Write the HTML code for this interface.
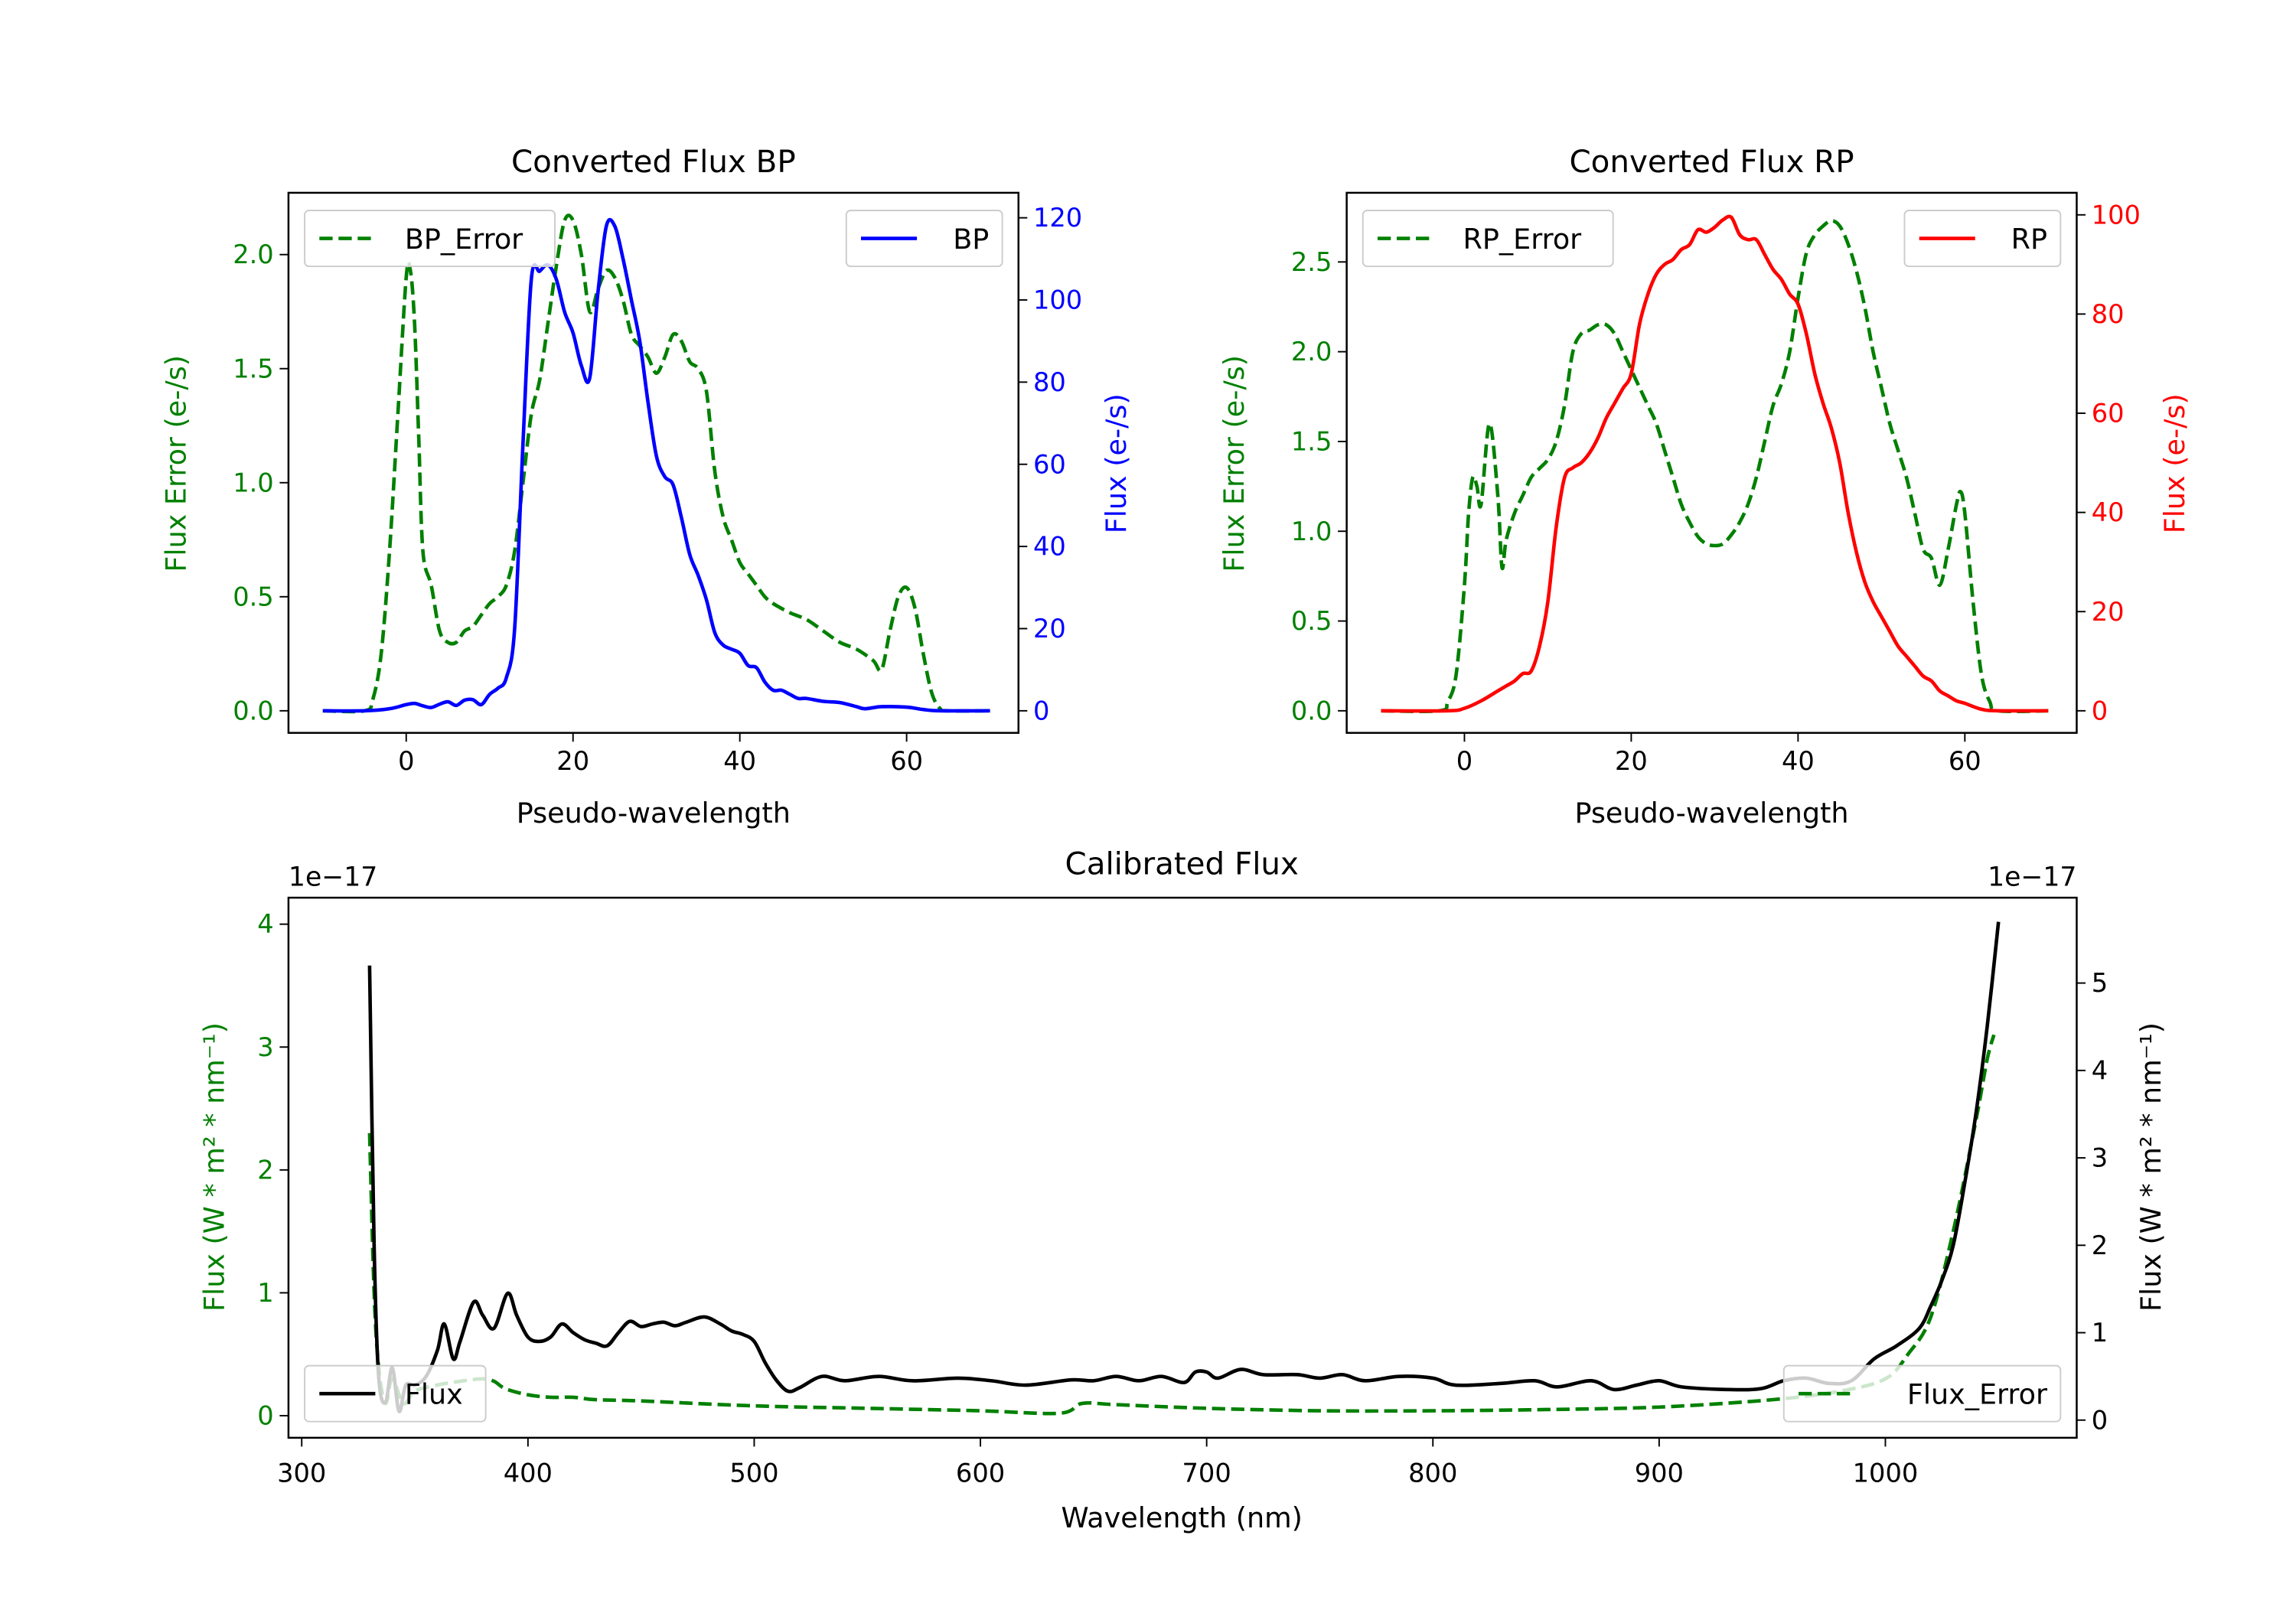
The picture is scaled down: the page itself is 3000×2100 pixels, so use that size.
<!DOCTYPE html>
<html><head><meta charset="utf-8"><style>
html,body{margin:0;padding:0;background:#fff}
svg{display:block}
text{font-family:"DejaVu Sans","Liberation Sans",sans-serif}
</style></head><body>
<svg id="fig" width="3000" height="2100" viewBox="0 0 1560 1092" xmlns="http://www.w3.org/2000/svg"></svg>
<script>
// ---- data ----
const bpX=[-10,-5,-2,0,1,2,3,4,5,6,7,8,9,10,11,12,13,14,15,16,17,18,19,20,21,22,23,24,25,26,27,28,29,30,31,32,33,34,35,36,37,38,39,40,41,42,43,44,45,46,47,48,50,52,54,55,57,60,62,64,70];
const bpFlux=[0,0,0.5,1.5,1.8,1.2,0.8,1.6,2.2,1.3,2.6,2.7,1.5,4,5.5,8,20,65,105,107,108.5,105,97,92,84,81,102,118,118,110,100,90,75,62,57,55,47,38,33,27,19,16,15,14,11,10.5,7,5,5,4,3,3,2.3,2,1,0.5,1,0.9,0.3,0,0];
const bpErrX=[-10,-5,-4,-3,-2,-1,0,0.5,1,1.5,2,3,4,5,6,7,8,9,10,11,12,13,14,15,16,17,18,19,20,21,22,23,24,25,26,27,28,29,30,31,32,33,34,35,36,37,38,39,40,41,42,43,44,46,48,50,52,54,56,57,58,59,60,61,62,63,64,65,70];
const bpErr=[0,0,0.05,0.25,0.7,1.3,1.9,1.93,1.7,1.2,0.7,0.55,0.35,0.3,0.3,0.35,0.37,0.42,0.47,0.5,0.55,0.7,1.0,1.3,1.45,1.7,1.95,2.15,2.15,2.0,1.75,1.85,1.93,1.9,1.8,1.65,1.6,1.55,1.48,1.55,1.65,1.62,1.53,1.5,1.4,1.05,0.85,0.75,0.65,0.6,0.55,0.5,0.47,0.43,0.4,0.35,0.3,0.27,0.22,0.18,0.35,0.5,0.54,0.45,0.25,0.08,0.01,0,0];
const rpX=[-10,-2,0,2,4,5,6,7,8,9,10,11,12,13,14,15,16,17,18,19,20,21,22,23,24,25,26,27,28,29,30,31,32,33,34,35,36,37,38,39,40,41,42,43,44,45,46,47,48,49,50,51,52,53,54,55,56,57,58,59,60,62,64,70];
const rpFlux=[0,0,0.5,2,4,5,6,7.5,8,13,22,37,47,49,50,52,55,59,62,65,68,78,84,88,90,91,93,94,97,96.5,97.5,99,99.5,96,95,95,92,89,87,84,82,76,68,62,57,50,40,32,26,22,19,16,13,11,9,7,6,4,3,2,1.5,0.3,0,0];
const rpErrX=[-10,-3,-2,-1,0,0.5,1,1.5,2,3,4,4.5,5,6,7,8,9,10,11,12,13,14,15,16,17,18,19,20,21,22,23,24,25,26,27,28,29,30,31,32,33,34,35,36,37,38,39,40,41,42,43,44,45,46,47,48,49,50,51,52,53,54,55,56,57,58,59,59.5,60,61,62,63,64,70];
const rpErr=[0,0,0.05,0.2,0.7,1.1,1.3,1.25,1.15,1.6,1.2,0.8,0.95,1.1,1.2,1.3,1.35,1.4,1.5,1.7,2.0,2.1,2.12,2.15,2.15,2.1,2.0,1.9,1.8,1.7,1.6,1.45,1.3,1.15,1.05,0.97,0.93,0.92,0.93,0.98,1.05,1.15,1.3,1.5,1.7,1.82,2.0,2.3,2.55,2.65,2.7,2.73,2.7,2.6,2.45,2.25,2.0,1.8,1.6,1.45,1.3,1.1,0.9,0.85,0.7,0.9,1.15,1.22,1.1,0.6,0.2,0.05,0,0];
const wlX=[330,332,334,337,340,343,346,350,355,360,363,367,370,376,380,385,391,395,400,405,410,415,420,425,430,435,440,445,450,455,460,465,470,478,485,490,495,500,505,510,515,520,530,540,555,570,590,605,620,640,650,660,670,680,690,695,700,705,715,725,740,750,760,770,785,800,810,830,845,855,870,880,890,900,910,930,945,955,965,975,985,995,1005,1015,1020,1025,1030,1035,1040,1045,1050];
const calFlux=[5.2,2,0.5,0.2,0.6,0.1,0.4,0.4,0.5,0.8,1.1,0.7,0.9,1.35,1.2,1.05,1.45,1.2,0.95,0.9,0.95,1.1,1.0,0.92,0.88,0.85,1.0,1.13,1.07,1.1,1.12,1.08,1.12,1.18,1.1,1.02,0.98,0.9,0.65,0.45,0.33,0.37,0.5,0.45,0.5,0.45,0.48,0.45,0.4,0.46,0.45,0.5,0.45,0.5,0.43,0.55,0.55,0.48,0.58,0.52,0.52,0.48,0.52,0.45,0.5,0.48,0.4,0.42,0.45,0.38,0.45,0.35,0.4,0.45,0.38,0.35,0.36,0.45,0.48,0.42,0.45,0.7,0.85,1.05,1.3,1.6,2.0,2.7,3.5,4.5,5.7];
const errWl=[330,332,334,337,340,345,350,360,370,380,385,390,400,410,420,430,450,500,550,600,635,645,660,700,750,800,850,900,950,980,1000,1010,1020,1030,1040,1045,1048];
const calErr=[2.3,1.0,0.4,0.1,0.3,0.1,0.2,0.25,0.28,0.3,0.28,0.22,0.17,0.15,0.15,0.13,0.12,0.08,0.06,0.04,0.02,0.1,0.09,0.06,0.04,0.04,0.05,0.07,0.13,0.2,0.3,0.5,0.8,1.5,2.4,2.9,3.1];
const bpXTicks=[0,20,40,60], errTicks1=[0,0.5,1,1.5,2], fluxTicks1=[0,20,40,60,80,100,120];
const errTicks2=[0,0.5,1,1.5,2,2.5], fluxTicks2=[0,20,40,60,80,100];
const wlTicks=[300,400,500,600,700,800,900,1000], calErrTicks=[0,1,2,3,4], calFluxTicks=[0,1,2,3,4,5];

const NS='http://www.w3.org/2000/svg';
const svg=document.getElementById('fig');
function el(tag,attrs,parent,txt){const e=document.createElementNS(NS,tag);for(const k in attrs)e.setAttribute(k,attrs[k]);if(txt!==undefined)e.textContent=txt;(parent||svg).appendChild(e);return e;}
function lin(d0,d1,p0,p1){return v=>p0+(v-d0)*(p1-p0)/(d1-d0);}
function pathD(xs,ys,sx,sy){
 const P=xs.map((x,i)=>[sx(x),sy(ys[i])]);
 let d='M'+P[0][0].toFixed(2)+','+P[0][1].toFixed(2);
 for(let i=0;i<P.length-1;i++){
  const p0=P[Math.max(0,i-1)],p1=P[i],p2=P[i+1],p3=P[Math.min(P.length-1,i+2)];
  const c1=[p1[0]+(p2[0]-p0[0])/6,p1[1]+(p2[1]-p0[1])/6];
  const c2=[p2[0]-(p3[0]-p1[0])/6,p2[1]-(p3[1]-p1[1])/6];
  d+='C'+c1[0].toFixed(2)+','+c1[1].toFixed(2)+' '+c2[0].toFixed(2)+','+c2[1].toFixed(2)+' '+p2[0].toFixed(2)+','+p2[1].toFixed(2);
 }
 return d;}
const G='#008000';
function fmt(v,dec){return dec?v.toFixed(1):String(v);}
function leftTicks(g,ticks,sy,x0,color,dec){ticks.forEach(t=>{const y=sy(t);
 const l=el('line',{x1:x0-6,x2:x0,y1:y,y2:y,stroke:'#000','stroke-width':1},g);
 const tx=el('text',{x:x0-10,y:y+6,'text-anchor':'end','font-size':17.5,fill:color},g,fmt(t,dec));});}
function rightTicks(g,ticks,sy,x1,color){ticks.forEach(t=>{const y=sy(t);
 const l=el('line',{x1:x1,x2:x1+6,y1:y,y2:y,stroke:'#000','stroke-width':1},g);
 const tx=el('text',{x:x1+10,y:y+6,'font-size':17.5,fill:color},g,String(t));});}
function xTicks(g,ticks,sx,y1,ly){ticks.forEach(t=>{const x=sx(t);
 const l=el('line',{x1:x,x2:x,y1:y1,y2:y1+6,stroke:'#000','stroke-width':1},g);
 const tx=el('text',{x:x,y:ly,'text-anchor':'middle','font-size':17.5,fill:'#000'},g,String(t));});}
function legend(g,x,y,w,label,color,dashed,labelRight,name){
 const lg=el('g',{},g);
 el('rect',{x:x,y:y,width:w,height:38,rx:3,fill:'#fff','fill-opacity':0.8,stroke:'#ccc','stroke-width':1},lg);
 const a={x1:x+10,x2:x+48,y1:y+19,y2:y+19,stroke:color,'stroke-width':2.4};if(dashed)a['stroke-dasharray']='9,4';
 el('line',a,lg);
 el('text',{x:labelRight?x+w-9:x+68,y:y+26,'font-size':19,'text-anchor':labelRight?'end':'start',fill:'#000'},lg,label);
}
function ylab(g,x,y,txt,color,name){const t=el('text',{x:x,y:y,transform:`rotate(-90 ${x} ${y})`,'text-anchor':'middle','font-size':19,fill:color},g,txt);return t;}

function converted(name,L,R,title,flX,fl,erX,er,errTicks,fluxTicks,fluxPer,color,label,errLabel,errPx){
 const g=el('g',{});
 const T=131,B=498,base=483;
 const sx=lin(0,60,L+80,L+420);
 const sy1=v=>base-v*errPx; const sy2=v=>base-v*fluxPer;
 const e=el('path',{d:pathD(erX,er,sx,sy1),fill:'none',stroke:G,'stroke-width':2.4,'stroke-dasharray':'9,4'},g);
 
 const f=el('path',{d:pathD(flX,fl,sx,sy2),fill:'none',stroke:color,'stroke-width':2.4},g);
 
 const fr=el('rect',{x:L,y:T,width:R-L,height:B-T,fill:'none',stroke:'#000','stroke-width':1.3},g);
 leftTicks(g,errTicks,sy1,L,G,true);rightTicks(g,fluxTicks,sy2,R,color);xTicks(g,bpXTicks,sx,B,523);
 const tt=el('text',{x:(L+R)/2,y:117,'text-anchor':'middle','font-size':21},g,title);
 const xl=el('text',{x:(L+R)/2,y:559,'text-anchor':'middle','font-size':19},g,'Pseudo-wavelength');
 ylab(g,L-70,315,'Flux Error (e-/s)',G,'y-axis-title');
 ylab(g,R+73,315,'Flux (e-/s)',color,'y2-axis-title');
 legend(g,L+11,143,170,errLabel,G,true,false,'legend-error');
 legend(g,R-117,143,106,label,color,false,true,'legend-flux');
}
converted('bp-panel',196,692,'Converted Flux BP',bpX,bpFlux,bpErrX,bpErr,errTicks1,fluxTicks1,335/120,'#0000ff','BP','BP_Error',155);
converted('rp-panel',915,1411,'Converted Flux RP',rpX,rpFlux,rpErrX,rpErr,errTicks2,fluxTicks2,337/100,'#ff0000','RP','RP_Error',122);

// bottom
(function(){
 const g=el('g',{});
 const L=196,R=1411,T=610,B=977;
 const sx=lin(300,1000,205,1281);
 const sy1=v=>962-v*83.5, sy2=v=>965-v*59.4;
 const e=el('path',{d:pathD(errWl,calErr,sx,sy1),fill:'none',stroke:G,'stroke-width':2.4,'stroke-dasharray':'9,4'},g);
 
 const f=el('path',{d:pathD(wlX,calFlux,sx,sy2),fill:'none',stroke:'#000','stroke-width':2.4},g);
 
 const fr=el('rect',{x:L,y:T,width:R-L,height:B-T,fill:'none',stroke:'#000','stroke-width':1.3},g);
 leftTicks(g,calErrTicks,sy1,L,G,false);rightTicks(g,calFluxTicks,sy2,R,'#000');xTicks(g,wlTicks,sx,B,1007);
 const tt=el('text',{x:803,y:594,'text-anchor':'middle','font-size':21},g,'Calibrated Flux');
 const o1=el('text',{x:196,y:602,'font-size':18},g,'1e\u221217');
 const o2=el('text',{x:1411,y:602,'font-size':18,'text-anchor':'end'},g,'1e\u221217');
 const xl=el('text',{x:803,y:1038,'text-anchor':'middle','font-size':19},g,'Wavelength (nm)');
 ylab(g,152,793,'Flux (W * m\u00b2 * nm\u207b\u00b9)',G,'y-axis-title');
 ylab(g,1468,793,'Flux (W * m\u00b2 * nm\u207b\u00b9)','#000','y2-axis-title');
 legend(g,207,928,123,'Flux','#000',false,false,'legend-flux');
 legend(g,1212,928,188,'Flux_Error',G,true,true,'legend-flux-error');
})();
</script>
</body></html>
